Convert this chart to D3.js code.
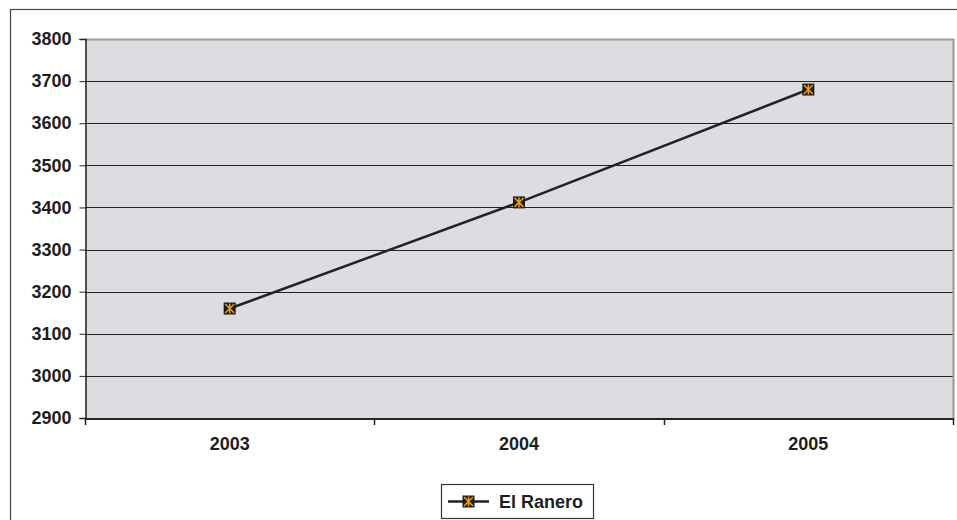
<!DOCTYPE html>
<html>
<head>
<meta charset="utf-8">
<script src="https://cdn.jsdelivr.net/npm/d3@7"></script>
<style>
  html, body { margin: 0; padding: 0; background: #fff; }
  svg { display: block; }
  text { font-family: "Liberation Sans", Arial, sans-serif; font-weight: bold; fill: #1e1e1e; }
</style>
</head>
<body>
<svg id="chart" width="957" height="520"></svg>
<script>
// Population of El Ranero by year
const years = ["2003", "2004", "2005"];
const population = [3160, 3412, 3680];
const yTicks = [2900, 3000, 3100, 3200, 3300, 3400, 3500, 3600, 3700, 3800];
const seriesName = "El Ranero";

const svg = d3.select("#chart");
const plot = { left: 85, top: 39, right: 953, bottom: 418 };
const fontSize = 18;

// outer frame
svg.append("rect")
  .attr("x", 10.5).attr("y", 9.5)
  .attr("width", 960).attr("height", 530)
  .attr("fill", "#fff").attr("stroke", "#444").attr("stroke-width", 1.2);

const x = d3.scaleBand().domain(years).range([plot.left, plot.right]);
const y = d3.scaleLinear().domain([2900, 3800]).range([plot.bottom, plot.top]);

// plot background
svg.append("rect")
  .attr("x", plot.left).attr("y", plot.top)
  .attr("width", plot.right - plot.left).attr("height", plot.bottom - plot.top)
  .attr("fill", "#dcdde0");

// gridlines
svg.append("g").selectAll("line")
  .data(yTicks.filter(d => d > 2900 && d < 3800))
  .join("line")
  .attr("x1", plot.left).attr("x2", plot.right)
  .attr("y1", d => Math.round(y(d)) + 0.5).attr("y2", d => Math.round(y(d)) + 0.5)
  .attr("stroke", "#222").attr("stroke-width", 1);

// plot border top/right
svg.append("path")
  .attr("d", `M${plot.left},${plot.top + 0.5}H${plot.right + 0.5}V${plot.bottom}`)
  .attr("fill", "none").attr("stroke", "#999").attr("stroke-width", 2);

// y axis
const yAxis = svg.append("g")
  .attr("transform", `translate(${plot.left + 0.5},0)`)
  .call(d3.axisLeft(y).tickValues(yTicks).tickSize(6).tickPadding(8).tickFormat(d3.format("d")));
yAxis.attr("font-size", null).attr("font-family", null);
yAxis.select(".domain").attr("stroke", "#222").attr("stroke-width", 1.5);
yAxis.selectAll(".tick line").attr("stroke", "#222");
yAxis.selectAll(".tick text")
  .style("font-size", fontSize + "px").attr("fill", "#1e1e1e");

// x axis
const xAxis = svg.append("g")
  .attr("transform", `translate(0,${plot.bottom + 0.5})`)
  .call(d3.axisBottom(x).tickSize(0).tickPadding(19));
xAxis.attr("font-size", null).attr("font-family", null);
xAxis.select(".domain").attr("stroke", "#222").attr("stroke-width", 2);
xAxis.selectAll(".tick text")
  .style("font-size", fontSize + "px").attr("fill", "#1e1e1e");

// category boundary ticks
const bounds = years.map(d => x(d)).concat([x(years[years.length - 1]) + x.bandwidth()]);
svg.append("g").selectAll("line")
  .data(bounds)
  .join("line")
  .attr("x1", d => Math.round(d) + 0.5).attr("x2", d => Math.round(d) + 0.5)
  .attr("y1", plot.bottom).attr("y2", plot.bottom + 7)
  .attr("stroke", "#222").attr("stroke-width", 1.5);

// series line
const cx = d => x(d) + x.bandwidth() / 2;
svg.append("path")
  .datum(years.map((d, i) => [cx(d), y(population[i])]))
  .attr("d", d3.line())
  .attr("fill", "none").attr("stroke", "#222").attr("stroke-width", 2.5);

// star marker
function marker(g, px, py) {
  const s = 6;
  g.append("rect").attr("x", px - s).attr("y", py - s).attr("width", 2 * s).attr("height", 2 * s)
    .attr("fill", "#1a1a1a");
  const r = 4.5;
  const p = d3.path();
  p.moveTo(px - r, py - r); p.lineTo(px + r, py + r);
  p.moveTo(px + r, py - r); p.lineTo(px - r, py + r);
  p.moveTo(px, py - r - 0.5); p.lineTo(px, py + r + 0.5);
  g.append("path").attr("d", p.toString()).attr("stroke", "#f5a000").attr("stroke-width", 1.5).attr("fill", "none");
}
const markers = svg.append("g");
years.forEach((d, i) => marker(markers, cx(d), y(population[i])));

// legend
const lg = svg.append("g");
lg.append("rect").attr("x", 441.5).attr("y", 484.5).attr("width", 152).attr("height", 34)
  .attr("fill", "#fff").attr("stroke", "#333").attr("stroke-width", 1.2);
lg.append("line").attr("x1", 448).attr("x2", 489).attr("y1", 501.5).attr("y2", 501.5)
  .attr("stroke", "#222").attr("stroke-width", 2.5);
marker(lg, 468.5, 501.5);
lg.append("text").attr("x", 499).attr("y", 508).style("font-size", fontSize + "px").text(seriesName);
</script>
</body>
</html>
